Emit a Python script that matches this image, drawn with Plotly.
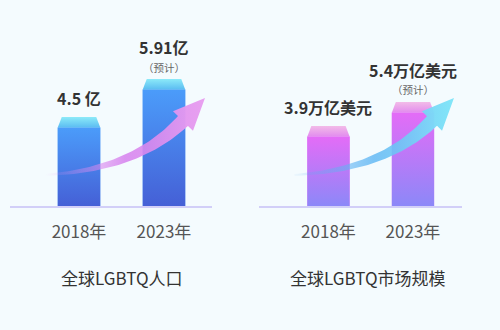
import numpy as np
import plotly.graph_objects as go

# ---- data -------------------------------------------------------------
years = ["2018年", "2023年"]
pop_values = [4.5, 5.91]                 # 亿人
pop_labels = ["4.5 亿", "5.91亿"]
market_values = [3.9, 5.4]               # 万亿美元
market_labels = ["3.9万亿美元", "5.4万亿美元"]
forecast_notes = ["", "（预计）"]
panel_titles = ["全球LGBTQ人口", "全球LGBTQ市场规模"]

# ---- geometry ---------------------------------------------------------
W, H = 500, 330
BASE_PX, TOP_PX = 206, 20            # baseline / top of plotting area (px from top)
CAP_PX = 10.5                        # height of the bevelled top cap
INSET_PX = 4                         # cap narrowing on each side
BAR_W = 0.5
FONT = "Noto Sans CJK SC"

panels = [
    dict(values=pop_values, labels=pop_labels, title=panel_titles[0],
         px=(10, 212), xr=(-0.812, 1.565), yr=(1.2, 8.10), title_x=122,
         body=("#4560d6", "#4b9cfa"), cap=("#5bbcf2", "#8ceaf8"),
         arrow=["rgba(226,150,240,0)", "rgba(214,128,238,0.85)", "rgba(232,160,240,1)"]),
    dict(values=market_values, labels=market_labels, title=panel_titles[1],
         px=(259, 462), xr=(-0.822, 1.58), yr=(-1.1, 10.525), title_x=368,
         body=("#8c88f8", "#e46cf7"), cap=("#e28cee", "#f2bce8"),
         arrow=["rgba(90,170,240,0.05)", "rgba(100,185,244,0.85)", "rgba(130,230,248,1)"]),
]

y_dom = [(H - BASE_PX) / H, (H - TOP_PX) / H]

fig = go.Figure()

for i, p in enumerate(panels):
    xa = "x" if i == 0 else "x2"
    ya = "y" if i == 0 else "y2"
    X0, X1 = p["px"]
    xr0, xr1 = p["xr"]
    yr0, yr1 = p["yr"]
    px_per_x = (X1 - X0) / (xr1 - xr0)
    px_per_y = (BASE_PX - TOP_PX) / (yr1 - yr0)

    def to_data(px, py):
        return (xr0 + (np.asarray(px) - X0) / px_per_x,
                yr0 + (BASE_PX - np.asarray(py)) * 1.0 / px_per_y)

    cap_h = CAP_PX / px_per_y
    inset = INSET_PX / px_per_x
    xs = [0, 1]

    # bar bodies
    fig.add_trace(go.Bar(
        x=xs, y=[v - cap_h - yr0 for v in p["values"]], base=yr0,
        width=BAR_W, marker=dict(color=p["body"][1], line=dict(width=0)),
        xaxis=xa, yaxis=ya, hoverinfo="skip", showlegend=False))

    for x, v in zip(xs, p["values"]):
        l, r = x - BAR_W / 2, x + BAR_W / 2
        top = v - cap_h
        # vertical gradient over the body
        fig.add_trace(go.Scatter(
            x=[l, r, r, l, l], y=[yr0, yr0, top, top, yr0],
            mode="lines", line=dict(width=0), fill="toself",
            fillgradient=dict(type="vertical",
                              colorscale=[[0, p["body"][0]], [1, p["body"][1]]]),
            xaxis=xa, yaxis=ya, hoverinfo="skip", showlegend=False))
        # bevelled cap
        fig.add_trace(go.Scatter(
            x=[l, r, r - inset, l + inset, l], y=[top, top, v, v, top],
            mode="lines", line=dict(width=0), fill="toself",
            fillgradient=dict(type="vertical",
                              colorscale=[[0, p["cap"][0]], [1, p["cap"][1]]]),
            xaxis=xa, yaxis=ya, hoverinfo="skip", showlegend=False))

    # rising arrow: curved band from the foot of the first bar past the second
    c0 = X0 + (0 - xr0) * px_per_x
    c1 = X0 + (1 - xr0) * px_per_x
    P0 = np.array([c0 - 34, BASE_PX - 31])
    P1 = np.array([c0 + 56, BASE_PX - 36])
    Hc = np.array([c1 + 19, BASE_PX - 85])
    tip = np.array([c1 + 41, BASE_PX - 108])
    t = np.linspace(0, 1, 50)[:, None]
    B = (1 - t) ** 2 * P0 + 2 * (1 - t) * t * P1 + t ** 2 * Hc
    D = 2 * (1 - t) * (P1 - P0) + 2 * t * (Hc - P1)
    D = D / np.linalg.norm(D, axis=1, keepdims=True)
    N = np.column_stack([-D[:, 1], D[:, 0]])
    w = (1.0 + 6.0 * t[:, 0] ** 1.1)[:, None]
    upper = B + w * N
    lower = B - w * N
    n_end = N[-1]
    poly = np.vstack([upper, Hc + 14 * n_end, tip, Hc - 14 * n_end,
                      lower[::-1], upper[:1]])
    ax_, ay_ = to_data(poly[:, 0], poly[:, 1])
    fig.add_trace(go.Scatter(
        x=ax_, y=ay_, mode="lines", line=dict(width=0), fill="toself",
        fillgradient=dict(type="horizontal",
                          colorscale=[[0, p["arrow"][0]], [0.5, p["arrow"][1]],
                                      [1, p["arrow"][2]]]),
        xaxis=xa, yaxis=ya, hoverinfo="skip", showlegend=False))

    # value labels
    for x, v, lab, note in zip(xs, p["values"], p["labels"], forecast_notes):
        fig.add_annotation(x=x, y=v, xref=xa, yref=ya, text=f"<b>{lab}</b>",
                           showarrow=False, yanchor="middle",
                           yshift=32 if note else 19,
                           font=dict(family=FONT, size=16, color="#333333"))
        if note:
            fig.add_annotation(x=x, y=v, xref=xa, yref=ya, text=note,
                               showarrow=False, yanchor="middle", yshift=12,
                               font=dict(family=FONT, size=10.5, color="#666666"))

    # panel title
    fig.add_annotation(x=p["title_x"] / W, y=(H - 277) / H, xref="paper",
                       yref="paper", text=p["title"], showarrow=False,
                       xanchor="center", yanchor="middle",
                       font=dict(family=FONT, size=17, color="#333333"))

    axis_common = dict(showgrid=False, zeroline=False)
    fig.layout[("xaxis" if i == 0 else "xaxis2")] = dict(
        domain=[X0 / W, X1 / W], range=list(p["xr"]), anchor=ya,
        tickvals=xs, ticktext=years, ticks="", showline=True,
        linecolor="#d2cff8", linewidth=1.5, ticklabelstandoff=10,
        tickfont=dict(family=FONT, size=17, color="#555555"), fixedrange=True,
        **axis_common)
    fig.layout[("yaxis" if i == 0 else "yaxis2")] = dict(
        domain=y_dom, range=list(p["yr"]), anchor=xa, visible=False,
        fixedrange=True, **axis_common)

fig.update_layout(
    width=W, height=H, margin=dict(l=0, r=0, t=0, b=0),
    paper_bgcolor="#f4fbfe", plot_bgcolor="rgba(0,0,0,0)",
    barmode="overlay", showlegend=False, hovermode=False,
    font=dict(family=FONT),
)

fig.write_html("out.html", config=dict(displayModeBar=False))
